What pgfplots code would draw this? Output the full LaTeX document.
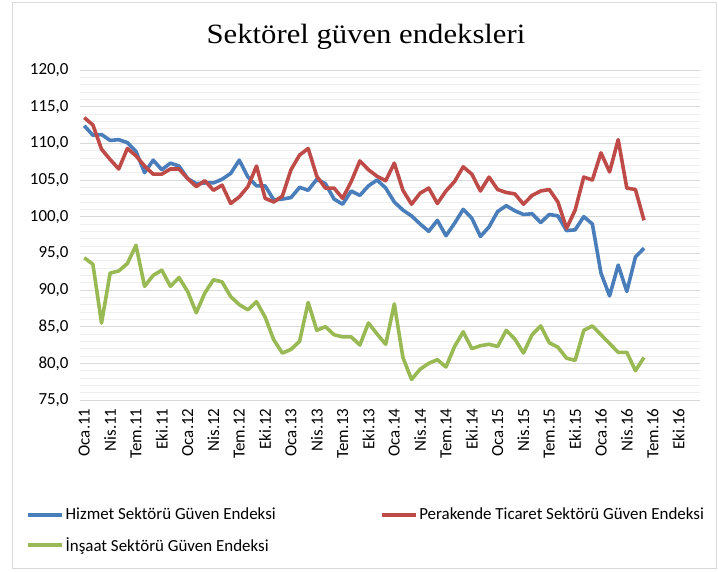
\documentclass[border=0pt]{standalone}
\usepackage{fontspec}
\setmainfont{Carlito}
\newfontfamily\titlefont[FakeStretch=1.1]{Liberation Serif}
\usepackage{pgfplots}
\usepackage{pgfplotstable}
\pgfplotsset{compat=1.18}
\definecolor{cblue}{HTML}{4A7EBB}
\definecolor{cred}{HTML}{BE4B48}
\definecolor{cgreen}{HTML}{98B954}
\definecolor{gridmaj}{HTML}{D9D9D9}
\definecolor{gridmin}{HTML}{EFEFEF}
\pgfplotstableread{
i h p c
0 112.4 113.5 94.4
1 111.1 112.5 93.5
2 111.2 109.2 85.5
3 110.4 107.8 92.3
4 110.5 106.5 92.6
5 110.1 109.3 93.6
6 108.9 108.3 96.1
7 106.0 106.9 90.5
8 107.7 105.8 92.0
9 106.4 105.8 92.7
10 107.3 106.5 90.5
11 106.9 106.5 91.7
12 105.2 105.2 89.8
13 104.5 104.1 86.9
14 104.6 104.9 89.6
15 104.6 103.6 91.4
16 105.1 104.3 91.1
17 105.9 101.8 89.1
18 107.7 102.7 88.0
19 105.4 104.1 87.3
20 104.2 106.9 88.4
21 104.2 102.5 86.3
22 102.3 102.0 83.2
23 102.4 102.8 81.4
24 102.6 106.4 81.9
25 104.0 108.4 83.0
26 103.6 109.3 88.3
27 105.1 105.5 84.5
28 104.5 103.9 85.0
29 102.4 103.9 83.9
30 101.7 102.5 83.6
31 103.5 104.8 83.6
32 102.9 107.6 82.5
33 104.2 106.4 85.5
34 105.0 105.5 84.0
35 103.9 104.9 82.6
36 102.0 107.3 88.1
37 100.9 103.6 80.8
38 100.1 101.7 77.8
39 99.0 103.2 79.2
40 98.0 103.9 80.0
41 99.5 101.8 80.5
42 97.4 103.5 79.5
43 99.1 104.8 82.3
44 101.0 106.8 84.3
45 99.8 105.8 82.0
46 97.3 103.5 82.4
47 98.6 105.4 82.6
48 100.7 103.7 82.3
49 101.5 103.3 84.5
50 100.8 103.1 83.3
51 100.3 101.7 81.4
52 100.4 102.9 83.9
53 99.2 103.5 85.1
54 100.3 103.7 82.8
55 100.1 102.0 82.2
56 98.1 98.4 80.7
57 98.2 100.9 80.4
58 100.0 105.4 84.5
59 99.0 105.0 85.1
60 92.3 108.7 83.9
61 89.2 106.1 82.7
62 93.4 110.5 81.5
63 89.8 103.9 81.5
64 94.5 103.7 79.0
65 95.7 99.5 80.8
}\datatable
\begin{document}
\begin{tikzpicture}
\useasboundingbox (0,0) rectangle (718bp,572bp);
\draw[gridmaj, line width=1bp] (12bp,3bp) rectangle (716bp,569bp);
\node[font=\titlefont\fontsize{28}{32}\selectfont] at (366bp,535bp) {Sektörel güven endeksleri};
\begin{axis}[
  at={(80bp,172bp)}, anchor=south west,
  scale only axis, width=620bp, height=330bp,
  xmin=-0.5, xmax=71.5, ymin=75, ymax=120,
  ytick={75,80,...,120},
  minor y tick num=4,
  xtick={0,3,...,69},
  xticklabels={Oca.11,Nis.11,Tem.11,Eki.11,Oca.12,Nis.12,Tem.12,Eki.12,Oca.13,Nis.13,Tem.13,Eki.13,Oca.14,Nis.14,Tem.14,Eki.14,Oca.15,Nis.15,Tem.15,Eki.15,Oca.16,Nis.16,Tem.16,Eki.16},
  xticklabel style={rotate=90, anchor=east, xshift=-5bp, font=\fontsize{17}{20}\selectfont},
  yticklabel style={xshift=-8bp, font=\fontsize{17}{20}\selectfont},
  /pgf/number format/.cd, fixed, fixed zerofill, precision=1, use comma, assume math mode=true,
  /pgfplots/.cd,
  ymajorgrids, yminorgrids,
  major grid style={gridmaj, line width=1bp},
  minor grid style={gridmin, line width=0.8bp},
  axis line style={draw=none},
  tick style={draw=none},
  minor tick style={draw=none},
  legend columns=2,
  legend cell align=left,
  legend style={at={(-0.092,-0.315)}, anchor=north west, draw=none, fill=none,
    font=\fontsize{17}{20}\selectfont, row sep=12bp,
    /tikz/every even column/.append style={column sep=102bp}},
  legend image code/.code={\draw[#1, line width=3.5bp] (0bp,0bp) -- (34bp,0bp);},
]
\addplot[cblue, line width=3.6bp, line join=round] table[x=i, y=h] {\datatable};
\addlegendentry{Hizmet Sektörü Güven Endeksi}
\addplot[cred, line width=3.6bp, line join=round] table[x=i, y=p] {\datatable};
\addlegendentry{Perakende Ticaret Sektörü Güven Endeksi}
\addplot[cgreen, line width=3.6bp, line join=round] table[x=i, y=c] {\datatable};
\addlegendentry{İnşaat Sektörü Güven Endeksi}
\end{axis}
\end{tikzpicture}
\end{document}
